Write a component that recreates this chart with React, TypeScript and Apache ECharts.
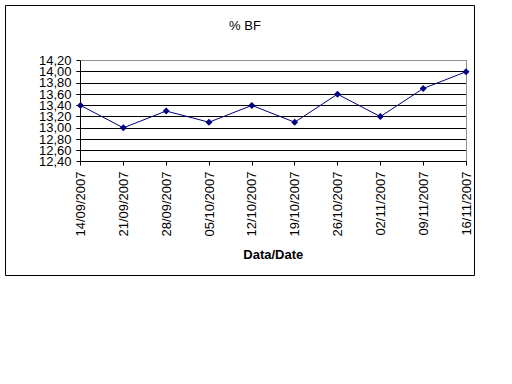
import React, { useEffect, useRef } from "react";
import * as echarts from "echarts";

const categories = [
  "14/09/2007", "21/09/2007", "28/09/2007", "05/10/2007", "12/10/2007",
  "19/10/2007", "26/10/2007", "02/11/2007", "09/11/2007", "16/11/2007",
];
const bfValues = [13.4, 13.0, 13.3, 13.1, 13.4, 13.1, 13.6, 13.2, 13.7, 14.0];
const yMin = 12.4;
const yMax = 14.2;
const yStep = 0.2;
const titleText = "% BF";
const xAxisName = "Data/Date";

const FONT = "'Liberation Sans', Arial, sans-serif";

export default function App() {
  const ref = useRef<HTMLDivElement>(null);
  useEffect(() => {
    if (!ref.current) return;
    const chart = echarts.init(ref.current, undefined, { renderer: "svg" });
    const nTicks = Math.round((yMax - yMin) / yStep) + 1;
    const splitColors = Array.from({ length: nTicks }, (_, i) =>
      i === nTicks - 1 ? "rgba(0,0,0,0)" : "#000000"
    );
    const fmt = (parity: number) => (v: number) => {
      const idx = Math.round((v - yMin) / yStep);
      return idx % 2 === parity ? v.toFixed(2).replace(".", ",") : "";
    };
    const labelBase = {
      margin: 9,
      fontFamily: FONT,
      fontSize: 13,
      color: "#000",
      hideOverlap: false,
    };
    chart.setOption({
      animation: false,
      backgroundColor: "#ffffff",
      title: {
        text: titleText,
        left: 240,
        top: 14,
        textAlign: "center",
        textStyle: { fontFamily: FONT, fontSize: 13, fontWeight: "normal", color: "#000" },
      },
      graphic: [
        {
          type: "rect",
          shape: { x: 5.5, y: 5.5, width: 469, height: 270 },
          style: { fill: "none", stroke: "#000", lineWidth: 1 },
          silent: true,
        },
      ],
      grid: { left: 80.5, right: 46, top: 60.5, height: 101, containLabel: false },
      xAxis: [
        {
          type: "category",
          data: categories,
          boundaryGap: false,
          position: "bottom",
          axisLine: { lineStyle: { color: "#000", width: 1 } },
          axisTick: { show: true, length: 4, inside: false, alignWithLabel: true, lineStyle: { color: "#000" } },
          axisLabel: {
            rotate: 90,
            margin: 10,
            interval: 0,
            fontFamily: FONT,
            fontSize: 13,
            color: "#000",
          },
          splitLine: { show: false },
          name: xAxisName,
          nameLocation: "middle",
          nameGap: 86,
          nameTextStyle: { fontFamily: FONT, fontSize: 13, fontWeight: "bold", color: "#000" },
        },
        {
          type: "category",
          data: categories,
          boundaryGap: false,
          position: "top",
          axisLine: { show: true, lineStyle: { color: "#808080", width: 1, type: "dotted" } },
          axisTick: { show: false },
          axisLabel: { show: false },
          splitLine: { show: false },
        },
      ],
      yAxis: [
        {
          type: "value",
          min: yMin,
          max: yMax,
          interval: yStep,
          position: "left",
          axisLine: { show: true, lineStyle: { color: "#000", width: 1 } },
          axisTick: { show: true, length: 4, inside: false, lineStyle: { color: "#000" } },
          axisLabel: { ...labelBase, showMinLabel: true, showMaxLabel: false, formatter: fmt(0) },
          splitLine: { show: true, lineStyle: { color: splitColors, width: 1 } },
        },
        {
          type: "value",
          min: yMin,
          max: yMax,
          interval: yStep,
          position: "right",
          axisLine: { show: true, lineStyle: { color: "#808080", width: 1, type: "dotted" } },
          axisTick: { show: false },
          axisLabel: { show: false },
          splitLine: { show: false },
        },
        {
          type: "value",
          min: yMin,
          max: yMax,
          interval: yStep,
          position: "left",
          offset: 0,
          axisLine: { show: false },
          axisTick: { show: true, length: 4, inside: false, lineStyle: { color: "#000" } },
          axisLabel: { ...labelBase, showMinLabel: false, showMaxLabel: true, formatter: fmt(1) },
          splitLine: { show: false },
        },
      ],
      series: [
        {
          type: "line",
          data: bfValues,
          xAxisIndex: 0,
          yAxisIndex: 0,
          symbol: "diamond",
          symbolSize: 7,
          showSymbol: true,
          lineStyle: { color: "#000080", width: 1 },
          itemStyle: { color: "#000080" },
          z: 5,
        },
      ],
    });
    return () => chart.dispose();
  }, []);
  return (
    <div
      ref={ref}
      style={{ position: "fixed", left: 0, top: 0, width: 512, height: 384 }}
    />
  );
}
